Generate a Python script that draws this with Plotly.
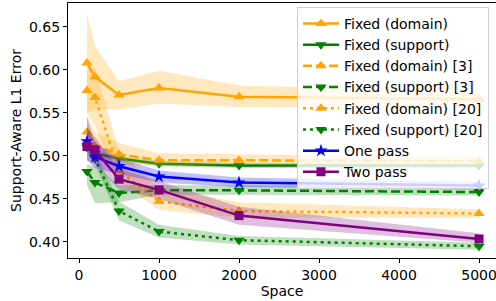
import plotly.graph_objects as go

space = [100, 200, 500, 1000, 2000, 5000]

fd_mean = [0.608, 0.592, 0.571, 0.579, 0.569, 0.566]
fd_lo = [0.550, 0.555, 0.554, 0.561, 0.557, 0.556]
fd_hi = [0.665, 0.628, 0.587, 0.599, 0.582, 0.575]

fs_mean = [0.510, 0.503, 0.497, 0.491, 0.489, 0.489]
fs_lo = [0.505, 0.499, 0.494, 0.488, 0.486, 0.486]
fs_hi = [0.516, 0.507, 0.500, 0.494, 0.492, 0.492]

fd3_mean = [0.528, 0.512, 0.502, 0.495, 0.495, 0.494]
fd3_lo = [0.508, 0.500, 0.490, 0.488, 0.490, 0.489]
fd3_hi = [0.548, 0.528, 0.515, 0.503, 0.502, 0.499]

fs3_mean = [0.482, 0.469, 0.457, 0.460, 0.460, 0.458]
fs3_lo = [0.466, 0.445, 0.446, 0.455, 0.455, 0.454]
fs3_hi = [0.490, 0.488, 0.466, 0.466, 0.466, 0.463]

fd20_mean = [0.576, 0.568, 0.483, 0.447, 0.436, 0.433]
fd20_lo = [0.550, 0.535, 0.470, 0.437, 0.428, 0.428]
fd20_hi = [0.600, 0.603, 0.505, 0.462, 0.446, 0.438]

fs20_mean = [0.512, 0.497, 0.436, 0.412, 0.402, 0.395]
fs20_lo = [0.505, 0.490, 0.425, 0.405, 0.397, 0.391]
fs20_hi = [0.520, 0.505, 0.447, 0.420, 0.407, 0.399]

one_mean = [0.517, 0.499, 0.488, 0.476, 0.469, 0.4655]
one_lo = [0.495, 0.486, 0.479, 0.469, 0.464, 0.461]
one_hi = [0.545, 0.515, 0.497, 0.483, 0.475, 0.470]

two_mean = [0.511, 0.507, 0.473, 0.4605, 0.4306, 0.4035]
two_lo = [0.495, 0.490, 0.461, 0.450, 0.420, 0.399]
two_hi = [0.530, 0.522, 0.485, 0.471, 0.441, 0.410]

ORANGE = "#FFA500"
GREEN = "#008000"
BLUE = "#0000FF"
PURPLE = "#800080"

def rgba(hexc, a):
    h = hexc.lstrip("#")
    r, g, b = int(h[0:2], 16), int(h[2:4], 16), int(h[4:6], 16)
    return f"rgba({r},{g},{b},{a})"

series = [
    ("Fixed (domain)", fd_mean, fd_lo, fd_hi, ORANGE, "solid", "triangle-up"),
    ("Fixed (support)", fs_mean, fs_lo, fs_hi, GREEN, "solid", "triangle-down"),
    ("Fixed (domain) [3]", fd3_mean, fd3_lo, fd3_hi, ORANGE, "9px,4px", "triangle-up"),
    ("Fixed (support) [3]", fs3_mean, fs3_lo, fs3_hi, GREEN, "9px,4px", "triangle-down"),
    ("Fixed (domain) [20]", fd20_mean, fd20_lo, fd20_hi, ORANGE, "3px,4px", "triangle-up"),
    ("Fixed (support) [20]", fs20_mean, fs20_lo, fs20_hi, GREEN, "3px,4px", "triangle-down"),
    ("One pass", one_mean, one_lo, one_hi, BLUE, "solid", "star"),
    ("Two pass", two_mean, two_lo, two_hi, PURPLE, "solid", "square"),
]

fig = go.Figure()
for name, m, lo, hi, col, dash, sym in series:
    fig.add_trace(go.Scatter(x=space, y=lo, mode="lines", line=dict(width=0, color=col),
                             showlegend=False, hoverinfo="skip"))
    fig.add_trace(go.Scatter(x=space, y=hi, mode="lines", line=dict(width=0, color=col),
                             fill="tonexty", fillcolor=rgba(col, 0.25),
                             showlegend=False, hoverinfo="skip"))
    fig.add_trace(go.Scatter(x=space, y=m, mode="lines+markers", name=name,
                             line=dict(color=col, width=2.5, dash=dash),
                             marker=dict(symbol=sym, size=10 if sym != "square" else 9,
                                         color=col, line=dict(width=0))))

font = "DejaVu Sans, Verdana, sans-serif"
fig.update_layout(
    width=496, height=301,
    margin=dict(l=68, r=0, t=3, b=43, autoexpand=False),
    plot_bgcolor="white", paper_bgcolor="white",
    font=dict(family=font, size=14, color="black"),
    showlegend=True,
    legend=dict(x=0.535, y=0.985, xanchor="left", yanchor="top", traceorder="normal",
                bgcolor="rgba(255,255,255,0.8)", bordercolor="#d0d0d0", borderwidth=1,
                font=dict(family=font, size=14), tracegroupgap=0, itemwidth=36),
    xaxis=dict(range=[-137.5, 5212], tickvals=[0, 1000, 2000, 3000, 4000, 5000],
               ticks="outside", ticklen=4, tickwidth=1, tickcolor="black",
               showline=True, linecolor="black", linewidth=1.2, mirror=True,
               showgrid=False, zeroline=False, automargin=False,
               ticklabeloverflow="allow",
               title=dict(text="Space", standoff=0, font=dict(size=14))),
    yaxis=dict(range=[0.3813, 0.6779], tickvals=[0.40, 0.45, 0.50, 0.55, 0.60, 0.65],
               tickformat=".2f",
               ticks="outside", ticklen=4, tickwidth=1, tickcolor="black",
               showline=True, linecolor="black", linewidth=1.2,
               showgrid=False, zeroline=False, automargin=False,
               title=dict(text="Support-Aware L1 Error", standoff=4, font=dict(size=14))),
)

fig.write_html("out.html", config={"displayModeBar": False},
               post_script="document.body.style.margin='0';document.body.style.overflow='hidden';")
